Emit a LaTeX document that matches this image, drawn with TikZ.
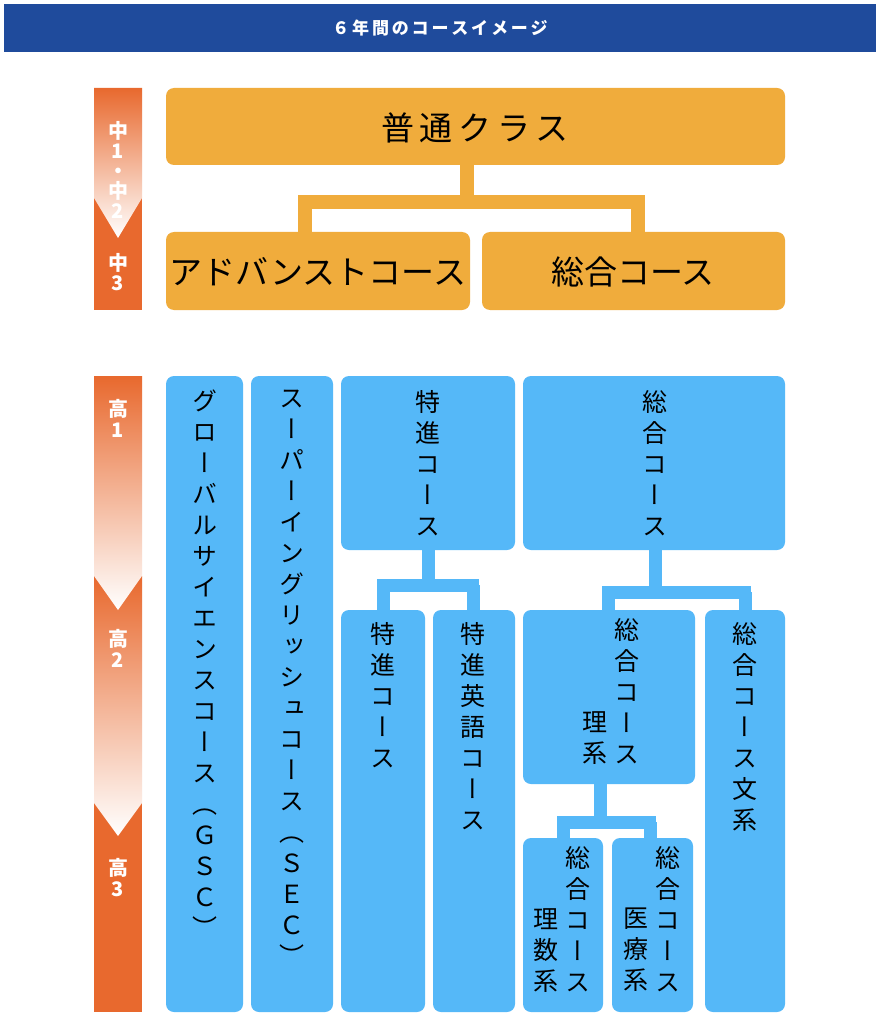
\documentclass[tikz,border=0pt]{standalone}
\usepackage{fontspec}
\setmainfont{Noto Sans CJK JP}
\newfontfamily\vj[RawFeature=+vert]{Noto Sans CJK JP}
\newfontfamily\hj{Noto Sans CJK JP}
\definecolor{hdr}{HTML}{1F4B9C}
\definecolor{org}{HTML}{E8692E}
\definecolor{yel}{HTML}{F0AC3C}
\definecolor{blu}{HTML}{55B8F8}
\tikzset{
 ybox/.style={fill=yel,rounded corners=8pt},
 bbox/.style={fill=blu,rounded corners=8pt},
 yline/.style={draw=yel,line width=14pt},
 bline/.style={draw=blu,line width=13pt},
 vtext/.style={font=\vj\fontsize{25}{31}\selectfont,align=center,anchor=north,inner sep=0pt,text=black},
 htext/.style={font=\hj\fontsize{33}{38}\selectfont,text=black},
 ltext/.style={font=\hj\bfseries\fontsize{20}{23}\selectfont,text=white,align=center,inner sep=0pt},
}
\begin{document}
\begin{tikzpicture}[x=1pt,y=-1pt]
\useasboundingbox (0,0) rectangle (881,1024);
\fill[white] (0,0) rectangle (881,1024);
% header
\fill[hdr] (4,4) rectangle (876,52);
\node[font=\hj\bfseries\fontsize{17}{20}\selectfont,text=white] (title) at (440,28) {６\,年\,間\,の\,コ\,ー\,ス\,イ\,メ\,ー\,ジ};
% left bar top
\fill[org] (94,88) rectangle (142,310);
\shade[top color=org,bottom color=white] (94,88) -- (142,88) -- (142,198) -- (118,238) -- (94,198) -- cycle;
\node[ltext] (l1) at (118,170) {中\\[-3pt]1\\[-3pt]・\\[-3pt]中\\[-3pt]2};
\node[ltext] (l2) at (118,272) {中\\[-3pt]3};
% left bar bottom
\fill[org] (94,376) rectangle (142,1012);
\shade[top color=org,bottom color=white] (94,576) -- (142,576) -- (142,803) -- (118,836) -- (94,803) -- cycle;
\shade[top color=org,bottom color=white] (94,376) -- (142,376) -- (142,576) -- (118,610) -- (94,576) -- cycle;
\node[ltext] (h1) at (118,418) {高\\[-2pt]1};
\node[ltext] (h2) at (118,648) {高\\[-2pt]2};
\node[ltext] (h3) at (118,878) {高\\[-2pt]3};
% orange part
\draw[yline] (467,160) -- (467,202) (298,202) -- (645,202) (305,202) -- (305,240) (638,202) -- (638,240);
\fill[ybox] (166,88) rectangle (785,165);
\fill[ybox] (166,232) rectangle (470,310);
\fill[ybox] (482,232) rectangle (785,310);
\node[htext] (fc) at (475,128) {普\,通\,ク\,ラ\,ス};
\node[htext] (ad) at (318,272) {アドバンストコース};
\node[htext] (sg) at (633,272) {総合コース};
% blue connectors
\draw[bline] (428,545) -- (428,585) (377,585) -- (479,585) (383,585) -- (383,615) (473,585) -- (473,615);
\draw[bline] (655,545) -- (655,592) (602,592) -- (751,592) (608,592) -- (608,615) (745,592) -- (745,615);
\draw[bline] (600,780) -- (600,822) (557,822) -- (656,822) (563,822) -- (563,843) (650,822) -- (650,843);
% blue boxes
\fill[bbox] (166,376) rectangle (243,1012);
\fill[bbox] (251,376) rectangle (333,1012);
\fill[bbox] (341,376) rectangle (515,550);
\fill[bbox] (523,376) rectangle (785,550);
\fill[bbox] (341,610) rectangle (425,1012);
\fill[bbox] (433,610) rectangle (515,1012);
\fill[bbox] (523,610) rectangle (695,784);
\fill[bbox] (705,610) rectangle (785,1012);
\fill[bbox] (523,838) rectangle (603,1012);
\fill[bbox] (612,838) rectangle (693,1012);
% texts
\node[vtext] (t1) at (205,390) {グ\\ロ\\ー\\バ\\ル\\サ\\イ\\エ\\ン\\ス\\コ\\ー\\ス\\（\\Ｇ\\Ｓ\\Ｃ\\）};
\node[vtext] (t2) at (292,390) {ス\\ー\\パ\\ー\\イ\\ン\\グ\\リ\\ッ\\シ\\ュ\\コ\\ー\\ス\\（\\Ｓ\\Ｅ\\Ｃ\\）};
\node[vtext] (t3) at (428,390) {特\\進\\コ\\ー\\ス};
\node[vtext] (t4) at (655,390) {総\\合\\コ\\ー\\ス};
\node[vtext] (t5) at (383,622) {特\\進\\コ\\ー\\ス};
\node[vtext] (t6) at (473,622) {特\\進\\英\\語\\コ\\ー\\ス};
\node[vtext] (t7) at (627,618) {総\\合\\コ\\ー\\ス};
\node[vtext] (t8) at (595,711) {理\\系};
\node[vtext] (t9) at (745,622) {総\\合\\コ\\ー\\ス\\文\\系};
\node[vtext] (t10) at (578,846) {総\\合\\コ\\ー\\ス};
\node[vtext] (t11) at (546,908) {理\\数\\系};
\node[vtext] (t12) at (668,846) {総\\合\\コ\\ー\\ス};
\node[vtext] (t13) at (636,908) {医\\療\\系};
\end{tikzpicture}
\end{document}
